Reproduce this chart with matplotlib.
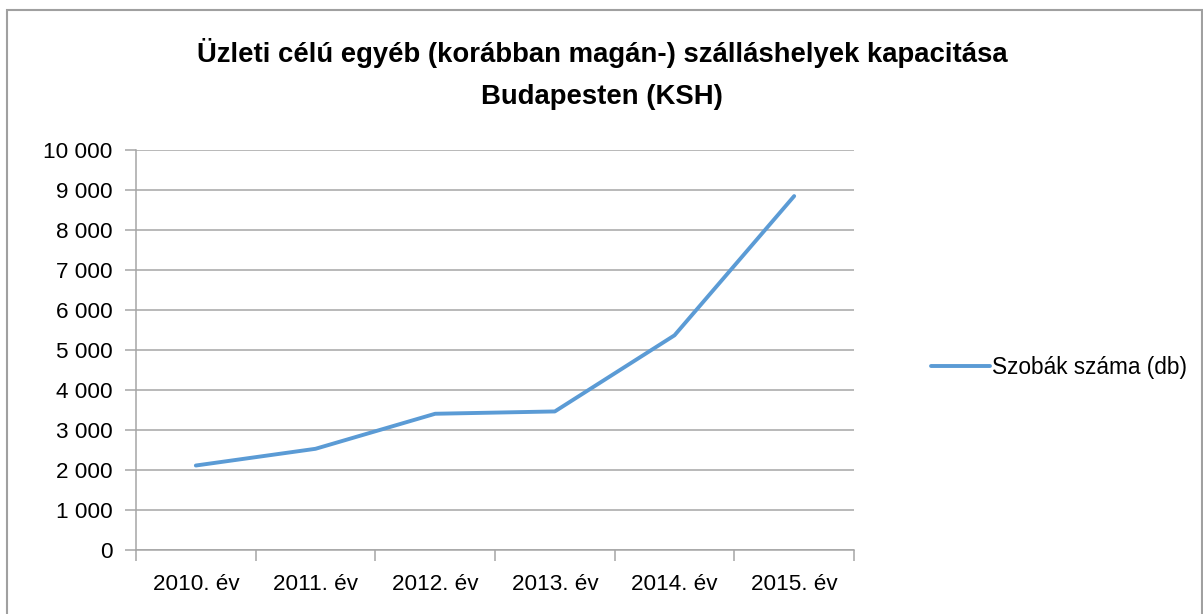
import numpy as np
import matplotlib
matplotlib.use('Agg')
import matplotlib.pyplot as plt
from matplotlib.patches import Rectangle
from matplotlib.ticker import FuncFormatter

# data
years = ['2010. év', '2011. év', '2012. év', '2013. év', '2014. év', '2015. év']
rooms = [2112, 2530, 3406, 3464, 5367, 8848]
y_ticks = list(range(0, 10001, 1000))

title = 'Üzleti célú egyéb (korábban magán-) szálláshelyek kapacitása\nBudapesten (KSH)'
series_name = 'Szobák száma (db)'

plt.rcParams['font.family'] = ['Liberation Sans', 'DejaVu Sans']

W, H = 1203, 614
fig = plt.figure(figsize=(W / 100, H / 100), dpi=100)

# outer chart border
fig.patches.append(Rectangle((7 / W, -0.1), (W - 8) / W, (H - 10) / H + 0.1,
                             transform=fig.transFigure, fill=False,
                             edgecolor='#a0a0a0', linewidth=1.5))

ax = fig.add_axes([136 / W, (H - 550) / H, (854 - 136) / W, 400 / H])

x = np.arange(len(years))
line, = ax.plot(x, rooms, color='#5b9bd5', linewidth=2.8, solid_capstyle='round',
                label=series_name)

ax.set_xlim(-0.5, len(years) - 0.5)
ax.set_ylim(0, 10000)
ax.set_yticks(y_ticks)
ax.yaxis.set_major_formatter(FuncFormatter(lambda v, p: f'{int(v):,}'.replace(',', ' ')))
ax.grid(axis='y', color='#a6a6a6', linewidth=1.1)
ax.set_axisbelow(True)

ax.set_xticks(x)
ax.set_xticklabels(years)
ax.set_xticks(np.arange(-0.5, len(years)), minor=True)
ax.tick_params(axis='x', which='major', length=0, pad=17, labelsize=16.2)
ax.tick_params(axis='x', which='minor', length=8, color='#a6a6a6', width=1.1)
ax.tick_params(axis='y', length=8, color='#a6a6a6', width=1.1, pad=9, labelsize=16.2)

for s in ['top', 'right']:
    ax.spines[s].set_visible(False)
for s in ['left', 'bottom']:
    ax.spines[s].set_color('#a6a6a6')
    ax.spines[s].set_linewidth(1.1)

fig.text(602 / W, 1 - 74 / H, title, ha='center', va='center', fontsize=19.8,
         fontweight='bold', linespacing=1.75)

leg = fig.legend(handles=[line], loc='center left', bbox_to_anchor=(922 / W, 1 - 367 / H),
                 frameon=False, fontsize=16.3, handlelength=2.6, handletextpad=0.1,
                 borderaxespad=0)

fig.savefig('out.png', dpi=100)
